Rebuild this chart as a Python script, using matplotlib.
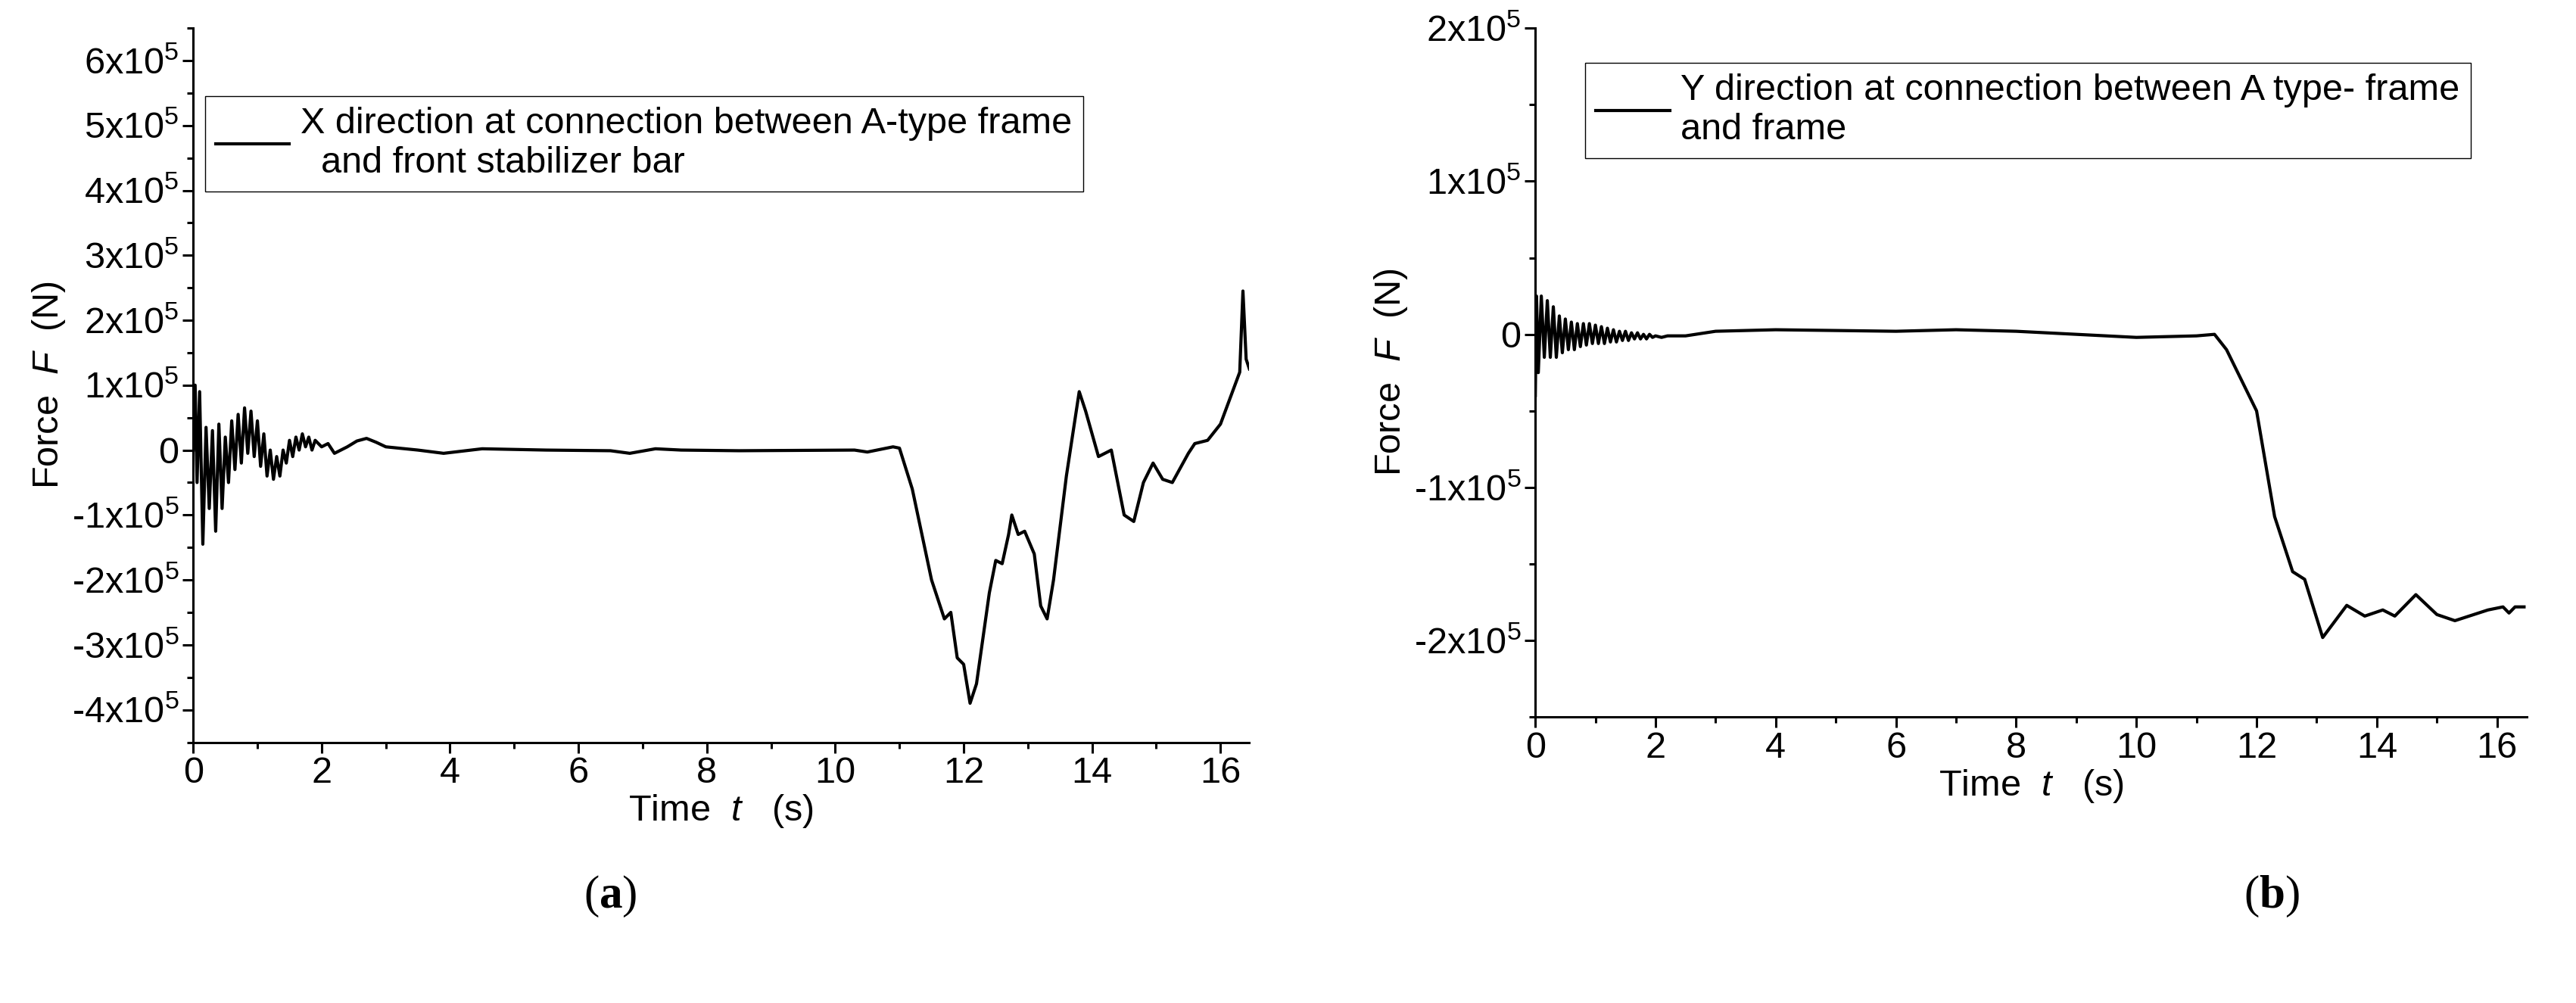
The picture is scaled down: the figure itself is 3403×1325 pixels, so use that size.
import matplotlib
matplotlib.use("Agg")
import matplotlib.pyplot as plt
from matplotlib.ticker import MultipleLocator, FuncFormatter

plt.rcParams['font.family'] = ['Liberation Sans Narrow', 'Liberation Sans', 'DejaVu Sans']
plt.rcParams['mathtext.fontset'] = 'custom'
plt.rcParams['mathtext.rm'] = 'Liberation Sans'
plt.rcParams['mathtext.it'] = 'Liberation Sans:italic'
plt.rcParams['mathtext.bf'] = 'Liberation Serif:bold'

# panel (a): X direction force, units of 1e5 N
t_a = [0, 0.03, 0.06, 0.1, 0.15, 0.2, 0.25, 0.3, 0.35, 0.4, 0.45, 0.5, 0.55, 0.6, 0.65,
       0.7, 0.75, 0.8, 0.85, 0.9, 0.95, 1.0, 1.05, 1.1, 1.15, 1.2, 1.25, 1.3, 1.35, 1.4,
       1.45, 1.5, 1.55, 1.6, 1.65, 1.7, 1.75, 1.8, 1.85, 1.9, 2.0, 2.1, 2.2, 2.4, 2.55, 2.7,
       2.85, 3.0, 3.5, 3.9, 4.5, 5.5, 6.5, 6.8, 7.2, 7.6, 8.5, 10.3, 10.5, 10.9, 11.0, 11.2,
       11.5, 11.7, 11.8, 11.9, 12.0, 12.1, 12.2, 12.4, 12.5, 12.6, 12.7, 12.75, 12.85,
       12.95, 13.1, 13.2, 13.3, 13.4, 13.6, 13.8, 13.9, 14.1, 14.3, 14.5, 14.65, 14.8,
       14.95, 15.1, 15.25, 15.5, 15.6, 15.8, 16.0, 16.3, 16.35, 16.4, 16.45]
f_a = [0, 1.0, -0.5, 0.9, -1.45, 0.35, -0.9, 0.3, -1.25, 0.4, -0.9, 0.2, -0.5, 0.45, -0.3,
       0.55, -0.2, 0.65, -0.05, 0.6, -0.1, 0.45, -0.25, 0.25, -0.4, 0.0, -0.45, -0.1, -0.4, 0.0,
       -0.2, 0.15, -0.1, 0.2, 0.0, 0.25, 0.05, 0.2, 0.0, 0.15, 0.05, 0.1, -0.05, 0.05, 0.14, 0.18,
       0.12, 0.05, 0.0, -0.05, 0.02, 0.0, -0.01, -0.05, 0.02, 0.0, -0.01, 0.0, -0.03, 0.05, 0.03,
       -0.6, -2.0, -2.6, -2.5, -3.2, -3.3, -3.9, -3.6, -2.2, -1.7, -1.75, -1.3, -1.0, -1.3,
       -1.25, -1.6, -2.4, -2.6, -2.0, -0.4, 0.9, 0.6, -0.1, 0.0, -1.0, -1.1, -0.5,
       -0.2, -0.45, -0.5, -0.05, 0.1, 0.15, 0.4, 1.2, 2.45, 1.4, 1.25]

# panel (b): Y direction force, units of 1e5 N
t_b = [0, 0.02, 0.05, 0.1, 0.15, 0.2, 0.25, 0.3, 0.35, 0.4, 0.45, 0.5, 0.55, 0.6, 0.65,
       0.7, 0.75, 0.8, 0.85, 0.9, 0.95, 1.0, 1.05, 1.1, 1.15, 1.2, 1.25, 1.3, 1.35, 1.4,
       1.45, 1.5, 1.55, 1.6, 1.65, 1.7, 1.75, 1.8, 1.85, 1.9, 1.95, 2.0, 2.1, 2.2, 2.5,
       3.0, 4.0, 6.0, 7.0, 8.0, 9.0, 10.0, 11.0,
       11.3, 11.5, 12.0, 12.3, 12.6, 12.8, 13.1, 13.5, 13.8, 14.1, 14.3, 14.65, 15.0,
       15.3, 15.85, 16.1, 16.2, 16.3, 16.45]
f_b = [-0.4, 0.25, -0.25, 0.25, -0.15, 0.22, -0.15, 0.18, -0.15, 0.12, -0.12, 0.1, -0.1,
       0.08, -0.1, 0.07, -0.08, 0.07, -0.07, 0.07, -0.06, 0.06, -0.06, 0.05, -0.06, 0.04,
       -0.05, 0.03, -0.05, 0.02, -0.04, 0.02, -0.04, 0.01, -0.03, 0.01, -0.03, 0.0, -0.03,
       0.0, -0.02, -0.01, -0.02, -0.01, -0.01, 0.02,
       0.03, 0.02, 0.03, 0.02, 0.0, -0.02, -0.01, 0.0, -0.1, -0.5, -1.19, -1.55, -1.6,
       -1.98, -1.77, -1.84, -1.8, -1.84, -1.7, -1.83, -1.87, -1.8, -1.78, -1.82, -1.78, -1.78]

FS = 35


def sci(v, pos):
    k = int(round(v))
    if k == 0:
        return "0"
    return "%dx10$^5$" % k


def style(ax, ylo, yhi, xhi):
    for s in ['top', 'right']:
        ax.spines[s].set_visible(False)
    for s in ['left', 'bottom']:
        ax.spines[s].set_linewidth(2.2)
    ax.set_xlim(0, xhi)
    ax.set_ylim(ylo, yhi)
    ax.xaxis.set_major_locator(MultipleLocator(2))
    ax.xaxis.set_minor_locator(MultipleLocator(1))
    ax.yaxis.set_major_locator(MultipleLocator(1))
    ax.yaxis.set_minor_locator(MultipleLocator(0.5))
    ax.yaxis.set_major_formatter(FuncFormatter(sci))
    ax.tick_params(which='major', length=10, width=2.2, labelsize=FS, direction='out')
    ax.tick_params(which='minor', length=6, width=2.2, direction='out')
    ax.set_xlabel('Time  $\\it{t}$   (s)', fontsize=FS, labelpad=2)
    ax.set_ylabel('Force  $\\it{F}$  (N)', fontsize=FS, labelpad=4)


fig = plt.figure(figsize=(34.03, 13.25), dpi=100)

ax1 = fig.add_axes([0.075, 0.26, 0.41, 0.712])
ax1.plot(t_a, f_a, color='black', lw=3,
         label='X direction at connection between A-type frame\n  and front stabilizer bar')
style(ax1, -4.5, 6.5, 16.45)
ax1.legend(loc='upper left', bbox_to_anchor=(0.011, 0.905), borderaxespad=0, fontsize=FS,
           fancybox=False, edgecolor='black', framealpha=1, handlelength=2.0,
           handletextpad=0.3, borderpad=0.3)

ax2 = fig.add_axes([0.596, 0.285, 0.385, 0.687])
ax2.plot(t_b, f_b, color='black', lw=3,
         label='Y direction at connection between A type- frame\nand frame')
style(ax2, -2.5, 2.0, 16.5)
ax2.legend(loc='upper left', bbox_to_anchor=(0.05, 0.95), borderaxespad=0, fontsize=FS,
           fancybox=False, edgecolor='black', framealpha=1, handlelength=2.0,
           handletextpad=0.3, borderpad=0.3)

fig.text(0.237, 0.095, '($\\mathbf{a}$)', fontsize=44, family='Liberation Serif', ha='center')
fig.text(0.882, 0.095, '($\\mathbf{b}$)', fontsize=44, family='Liberation Serif', ha='center')

fig.savefig('out.png', dpi=100, facecolor='white')
